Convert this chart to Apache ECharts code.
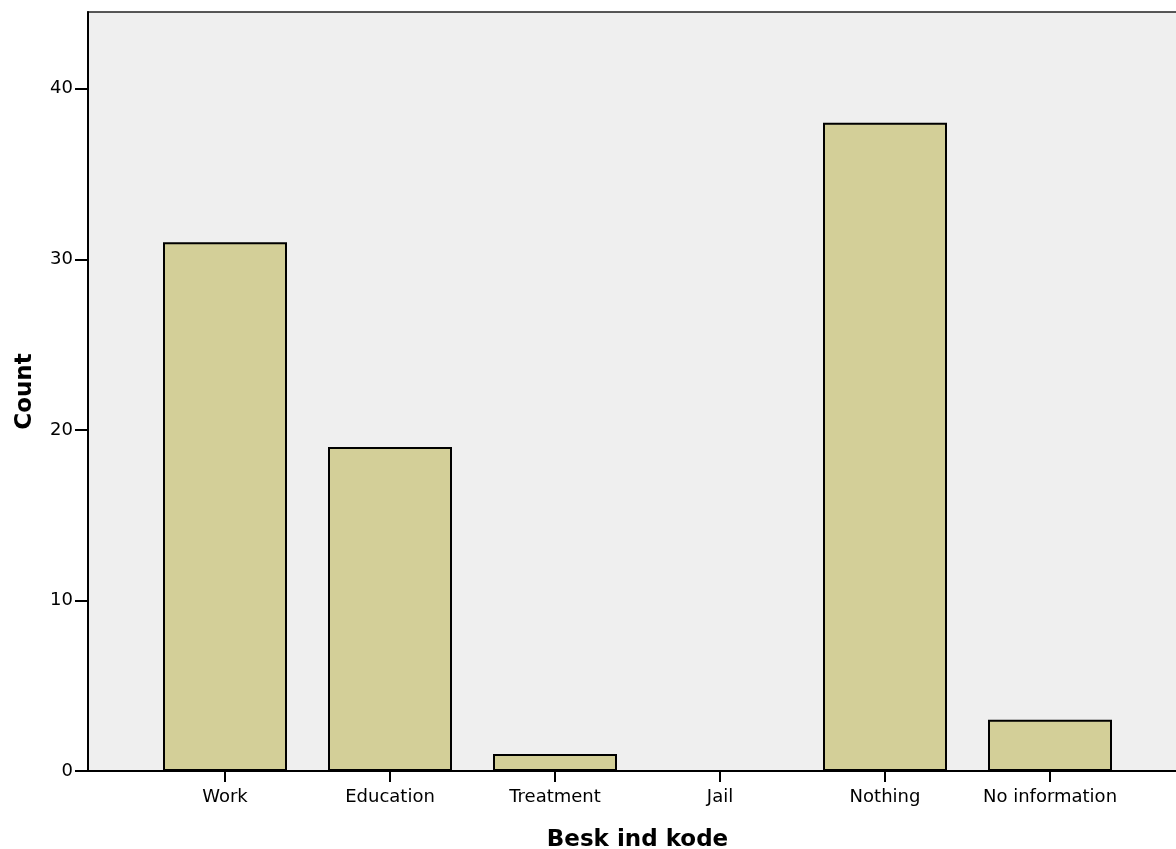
<!DOCTYPE html>
<html>
<head>
<meta charset="utf-8">
<script src="https://cdn.jsdelivr.net/npm/echarts@6/dist/echarts.min.js"></script>
<style>html,body{margin:0;padding:0;background:#fff}#c{width:1176px;height:849px}</style>
</head>
<body>
<div id="c"></div>
<script>
const categories = ['Work', 'Education', 'Treatment', 'Jail', 'Nothing', 'No information'];
const counts = [31, 19, 1, 0, 38, 3];
const yTicks = [0, 10, 20, 30, 40];
const yMax = 44.5;

const chart = echarts.init(document.getElementById('c'), null, {renderer: 'canvas'});
const font = 'DejaVu Sans';
chart.setOption({
  animation: false,
  grid: [
    {left: 88, top: 12, right: -40, bottom: 78, show: true, backgroundColor: '#efefef', borderColor: '#222', borderWidth: 1.5, outerBoundsMode: 'none', containLabel: false},
    {left: 142.5, width: 990, top: 12, bottom: 78, outerBoundsMode: 'none', containLabel: false}
  ],
  xAxis: [
    {gridIndex: 0, type: 'value', min: 0, max: 1, axisLabel: {show: false}, axisTick: {show: false}, splitLine: {show: false},
     axisLine: {show: true, onZero: false, lineStyle: {color: '#000', width: 2}}},
    {gridIndex: 1, type: 'category', data: categories, boundaryGap: true,
     axisLine: {show: false},
     axisTick: {show: true, alignWithLabel: true, interval: 0, length: 11, lineStyle: {color: '#000', width: 2}},
     axisLabel: {color: '#000', fontFamily: font, fontSize: 18, margin: 17, interval: 0},
     name: 'Besk ind kode', nameLocation: 'middle', nameGap: 58,
     nameTextStyle: {color: '#000', fontFamily: font, fontSize: 23, fontWeight: 'bold'}}
  ],
  yAxis: [
    {gridIndex: 0, type: 'value', min: 0, max: yMax, interval: 10,
     axisLine: {show: true, lineStyle: {color: '#000', width: 2}},
     axisTick: {show: true, length: 13, customValues: yTicks, lineStyle: {color: '#000', width: 2}},
     axisLabel: {color: '#000', fontFamily: font, fontSize: 18, margin: 15, customValues: yTicks},
     splitLine: {show: false},
     name: 'Count', nameLocation: 'middle', nameGap: 51,
     nameTextStyle: {color: '#000', fontFamily: font, fontSize: 23, fontWeight: 'bold'}},
    {gridIndex: 1, type: 'value', min: 0, max: yMax, show: false, splitLine: {show: false}}
  ],
  series: [{
    type: 'bar', xAxisIndex: 1, yAxisIndex: 1, barWidth: 124,
    data: counts.map(v => v === 0 ? {value: v, itemStyle: {borderWidth: 0}} : v),
    itemStyle: {color: '#d3cf98', borderColor: '#000', borderWidth: 2}
  }]
});
</script>
</body>
</html>
